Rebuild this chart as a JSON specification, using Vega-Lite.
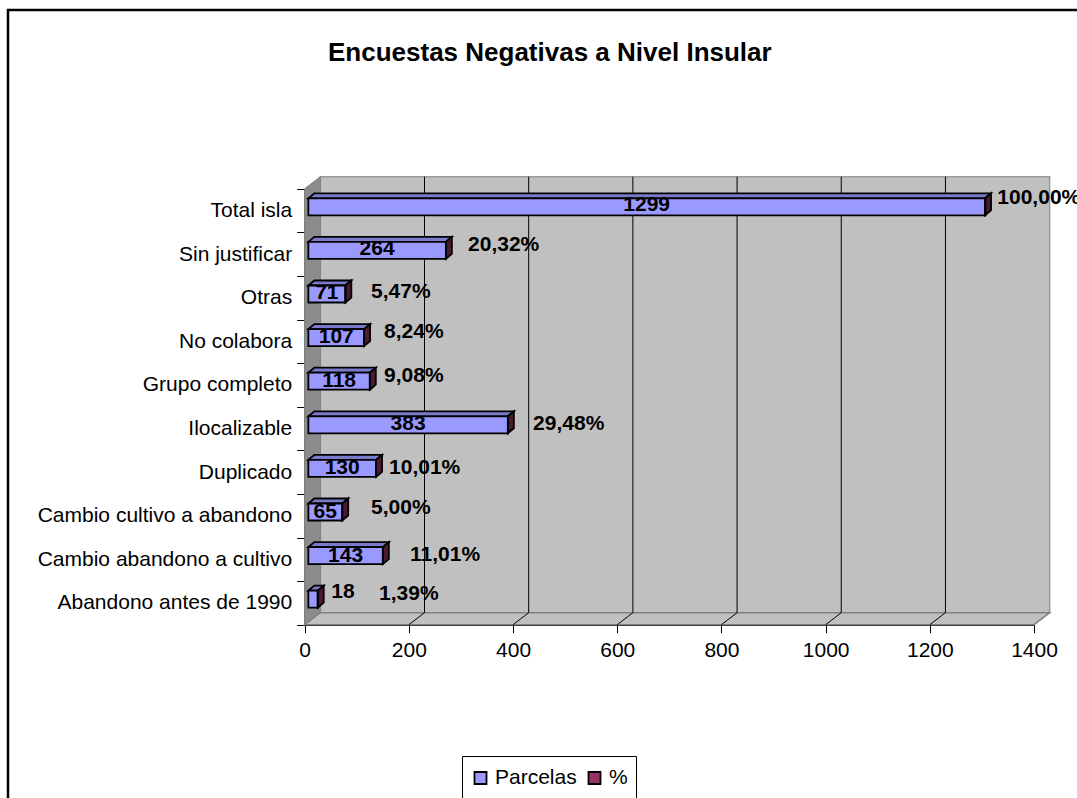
{
"$schema":"https://vega.github.io/schema/vega-lite/v6.json",
"width":1075,"height":795,"autosize":{"type":"none"},
"padding":{"left":8,"top":10,"right":0,"bottom":0},
"background":"white",
"title":{"text":"Encuestas Negativas a Nivel Insular","anchor":"start","frame":"group","dx":320,"dy":71,"font":"Liberation Sans","fontSize":26,"fontWeight":"bold","color":"black"},
"config":{"view":{"stroke":"black","strokeWidth":2.5},"text":{"font":"Liberation Sans"}},
"data":{"values":[
{"cat":"Total isla","i":9,"Parcelas":1299,"pct":100.00},
{"cat":"Sin justificar","i":8,"Parcelas":264,"pct":20.32},
{"cat":"Otras","i":7,"Parcelas":71,"pct":5.47},
{"cat":"No colabora","i":6,"Parcelas":107,"pct":8.24},
{"cat":"Grupo completo","i":5,"Parcelas":118,"pct":9.08},
{"cat":"Ilocalizable","i":4,"Parcelas":383,"pct":29.48},
{"cat":"Duplicado","i":3,"Parcelas":130,"pct":10.01},
{"cat":"Cambio cultivo a abandono","i":2,"Parcelas":65,"pct":5.00},
{"cat":"Cambio abandono a cultivo","i":1,"Parcelas":143,"pct":11.01},
{"cat":"Abandono antes de 1990","i":0,"Parcelas":18,"pct":1.39}
]},
"layer":[
{"data":{"values":[{}]},"mark":{"type":"rect","fill":"#c0c0c0","stroke":"#999999","strokeWidth":1.5},
 "encoding":{
  "x":{"datum":30,"type":"quantitative","scale":{"domain":[0,1400],"range":[296.7,1026],"nice":false,"zero":false},"axis":null},
  "x2":{"datum":1430},
  "y":{"datum":0.275,"type":"quantitative","scale":{"domain":[0,10],"range":[614.7,178.7],"nice":false,"zero":false},"axis":null},
  "y2":{"datum":10.275}}},
{"data":{"values":[{"px":0,"a":0,"b":10},{"px":30,"a":0.275,"b":10.275}]},"mark":{"type":"area","fill":"#8c8c8c","stroke":"#808080","strokeWidth":1},
 "encoding":{
  "x":{"field":"px","type":"quantitative","axis":null},
  "y":{"field":"a","type":"quantitative","scale":{"domain":[0,10],"range":[614.7,178.7],"nice":false,"zero":false},"axis":null},
  "y2":{"field":"b"}}},
{"data":{"values":[{"px":0,"a":0,"b":0},{"px":30,"a":0,"b":0.275},{"px":1400,"a":0,"b":0.275},{"px":1430,"a":0.275,"b":0.275}]},"mark":{"type":"area","fill":"#c0c0c0","stroke":"#808080","strokeWidth":1.5},
 "encoding":{
  "x":{"field":"px","type":"quantitative","axis":null},
  "y":{"field":"a","type":"quantitative","scale":{"domain":[0,10],"range":[614.7,178.7],"nice":false,"zero":false},"axis":null},
  "y2":{"field":"b"}}},
{"data":{"values":[{"t":200},{"t":400},{"t":600},{"t":800},{"t":1000},{"t":1200}]},
 "transform":[{"calculate":"datum.t+30","as":"tb"}],
 "mark":{"type":"rule","stroke":"black","strokeWidth":1},
 "encoding":{
  "x":{"field":"tb","type":"quantitative","axis":null},
  "y":{"datum":0.275,"type":"quantitative","scale":{"domain":[0,10],"range":[614.7,178.7],"nice":false,"zero":false},"axis":null},
  "y2":{"datum":10.275}}},
{"data":{"values":[{"t":200},{"t":400},{"t":600},{"t":800},{"t":1000},{"t":1200}]},
 "transform":[{"calculate":"datum.t+30","as":"tb"}],
 "mark":{"type":"rule","stroke":"black","strokeWidth":1},
 "encoding":{
  "x":{"field":"t","type":"quantitative","axis":null},
  "x2":{"field":"tb"},
  "y":{"datum":0,"type":"quantitative","scale":{"domain":[0,10],"range":[614.7,178.7],"nice":false,"zero":false},"axis":null},
  "y2":{"datum":0.275}}},
{"mark":{"type":"rule","opacity":0},
 "encoding":{
  "x":{"field":"Parcelas","type":"quantitative","axis":{"values":[0,200,400,600,800,1000,1200,1400],"format":"d","offset":-180.3,"grid":false,"title":null,"domainColor":"black","domainWidth":1.5,"tickColor":"black","tickSize":8,"labelFont":"Liberation Sans","labelFontSize":21,"labelColor":"black","labelPadding":7,"labelFlush":false,"labelOverlap":false}},
  "y":{"field":"cat","type":"nominal","sort":null,"scale":{"domain":["Total isla","Sin justificar","Otras","No colabora","Grupo completo","Ilocalizable","Duplicado","Cambio cultivo a abandono","Cambio abandono a cultivo","Abandono antes de 1990"],"range":[178.7,614.7],"paddingInner":0,"paddingOuter":0},
   "axis":{"offset":-296.7,"grid":false,"title":null,"tickBand":"extent","domainColor":"black","domainWidth":1.5,"tickColor":"black","tickSize":8,"labelFont":"Liberation Sans","labelFontSize":21,"labelColor":"black","labelPadding":5,"labelLimit":400}}}},
{"transform":[{"calculate":"[0,1,2,3]","as":"k"},{"flatten":["k"]},
  {"calculate":"datum.k==0?7:datum.k==1?18.5:datum.k==2?datum.Parcelas+7:datum.Parcelas+18.5","as":"px"},
  {"calculate":"datum.i+0.78+(datum.k==0?0:0.115)","as":"up"},
  {"calculate":"datum.i+0.78+(datum.k==3?0.115:0)","as":"lo"}],
 "mark":{"type":"area","fill":"#7a7acc","stroke":"black","strokeWidth":1.8},
 "encoding":{
  "x":{"field":"px","type":"quantitative","axis":null},
  "y":{"field":"lo","type":"quantitative","scale":{"domain":[0,10],"range":[614.7,178.7],"nice":false,"zero":false},"axis":null},
  "y2":{"field":"up"},"detail":{"field":"cat","type":"nominal"}}},
{"transform":[{"calculate":"[0,1]","as":"k"},{"flatten":["k"]},
  {"calculate":"datum.Parcelas+7+datum.k*11.5","as":"px"},
  {"calculate":"datum.i+0.39+datum.k*0.115","as":"lo"},
  {"calculate":"datum.i+0.78+datum.k*0.115","as":"up"}],
 "mark":{"type":"area","fill":"#4d1a33","stroke":"black","strokeWidth":1.8},
 "encoding":{
  "x":{"field":"px","type":"quantitative","axis":null},
  "y":{"field":"lo","type":"quantitative","scale":{"domain":[0,10],"range":[614.7,178.7],"nice":false,"zero":false},"axis":null},
  "y2":{"field":"up"},"detail":{"field":"cat","type":"nominal"}}},
{"transform":[{"calculate":"datum.Parcelas+7","as":"x1"},{"calculate":"datum.i+0.39","as":"lo"},{"calculate":"datum.i+0.78","as":"up"},{"calculate":"7","as":"x0"}],
 "mark":{"type":"rect","stroke":"black","strokeWidth":1.8},
 "encoding":{
  "x":{"field":"x0","type":"quantitative","axis":null},"x2":{"field":"x1"},
  "y":{"field":"lo","type":"quantitative","scale":{"domain":[0,10],"range":[614.7,178.7],"nice":false,"zero":false},"axis":null},
  "y2":{"field":"up"},
  "color":{"datum":"Parcelas","scale":{"domain":["Parcelas","%"],"range":["#9999ff","#993366"]},
   "legend":{"orient":"none","legendX":454,"legendY":746,"direction":"horizontal","columns":2,"title":null,"strokeColor":"black","padding":8,"clipHeight":28,"fillColor":"white","symbolType":"square","symbolSize":144,"symbolStrokeColor":"black","symbolStrokeWidth":1.8,"labelFont":"Liberation Sans","labelFontSize":21,"labelColor":"black","columnPadding":7,"symbolOpacity":1}}}},
{"transform":[{"calculate":"datum.Parcelas+7","as":"x1"},{"calculate":"datum.Parcelas+7+datum.pct/100","as":"x2v"},{"calculate":"datum.i+0.39","as":"lo"},{"calculate":"datum.i+0.78","as":"up"}],
 "mark":{"type":"rect","stroke":"black","strokeWidth":1.8},
 "encoding":{
  "x":{"field":"x1","type":"quantitative","axis":null},"x2":{"field":"x2v"},
  "y":{"field":"lo","type":"quantitative","scale":{"domain":[0,10],"range":[614.7,178.7],"nice":false,"zero":false},"axis":null},
  "y2":{"field":"up"},
  "color":{"datum":"%"}}},
{"transform":[
  {"calculate":"datum.cat=='Abandono antes de 1990'?73.5:7+datum.Parcelas/2","as":"vx"},
  {"calculate":"({'Total isla':9.626,'Sin justificar':8.617,'Otras':7.6,'No colabora':6.6,'Grupo completo':5.59,'Ilocalizable':4.6,'Duplicado':3.59,'Cambio cultivo a abandono':2.58,'Cambio abandono a cultivo':1.575,'Abandono antes de 1990':0.75})[datum.cat]","as":"vy"}],
 "mark":{"type":"text","align":"center","baseline":"middle","font":"Liberation Sans","fontSize":21,"fontWeight":"bold","color":"black"},
 "encoding":{
  "x":{"field":"vx","type":"quantitative","axis":null},
  "y":{"field":"vy","type":"quantitative","scale":{"domain":[0,10],"range":[614.7,178.7],"nice":false,"zero":false},"axis":null},
  "text":{"field":"Parcelas","type":"quantitative"}}},
{"transform":[
  {"calculate":"({'Total isla':1329.6,'Sin justificar':313.6,'Otras':127.3,'No colabora':152.3,'Grupo completo':152.3,'Ilocalizable':438.4,'Duplicado':161.9,'Cambio cultivo a abandono':127.3,'Cambio abandono a cultivo':202.2,'Abandono antes de 1990':142.7})[datum.cat]","as":"lx"},
  {"calculate":"({'Total isla':9.787,'Sin justificar':8.71,'Otras':7.63,'No colabora':6.715,'Grupo completo':5.7,'Ilocalizable':4.6,'Duplicado':3.59,'Cambio cultivo a abandono':2.676,'Cambio abandono a cultivo':1.6,'Abandono antes de 1990':0.704})[datum.cat]","as":"ly"},
  {"calculate":"replace(format(datum.pct,'.2f'),'.',',')+'%'","as":"ptxt"}],
 "mark":{"type":"text","align":"left","baseline":"middle","font":"Liberation Sans","fontSize":21,"fontWeight":"bold","color":"black"},
 "encoding":{
  "x":{"field":"lx","type":"quantitative","axis":null},
  "y":{"field":"ly","type":"quantitative","scale":{"domain":[0,10],"range":[614.7,178.7],"nice":false,"zero":false},"axis":null},
  "text":{"field":"ptxt","type":"nominal"}}}
],
"resolve":{"scale":{"y":"independent"},"axis":{"y":"independent","x":"independent"}}
}
